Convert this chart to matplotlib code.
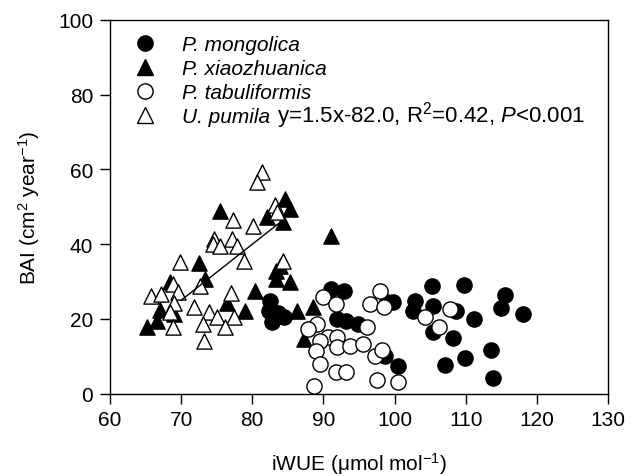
import numpy as np
import matplotlib
matplotlib.use("Agg")
import matplotlib.pyplot as plt
from matplotlib.lines import Line2D

plt.rcParams['font.family'] = ['Liberation Sans', 'DejaVu Sans']
plt.rcParams['mathtext.fontset'] = 'custom'
plt.rcParams['mathtext.rm'] = 'Liberation Sans'
plt.rcParams['mathtext.it'] = 'Liberation Sans:italic'

# P. mongolica (filled circles)
mong_x = [82.5, 82.3, 82.8, 84.4, 83.6, 91.0, 92.9, 91.9, 93.2, 94.8, 98.9, 99.8,
          98.7, 100.5, 105.2, 102.9, 102.6, 105.4, 109.7, 115.5, 115.0, 118.0,
          108.7, 111.1, 105.4, 108.2, 113.6, 109.9, 107.1, 113.9]
mong_y = [24.9, 22.2, 19.1, 20.5, 21.5, 28.0, 27.6, 20.0, 19.5, 18.7, 24.5, 24.6,
          10.2, 7.5, 28.8, 24.9, 22.2, 23.6, 29.1, 26.4, 22.9, 21.3,
          22.0, 20.0, 16.4, 14.8, 11.8, 9.5, 7.7, 4.1]

# P. xiaozhuanica (filled triangles)
xiao_x = [84.6, 85.3, 82.0, 84.3, 75.5, 91.0, 72.5, 83.9, 73.3, 83.3, 85.3, 68.5,
          80.4, 76.5, 79.0, 67.0, 69.0, 65.2, 66.6, 86.3, 88.6, 87.3, 83.4]
xiao_y = [52.1, 49.4, 47.2, 45.9, 49.0, 42.1, 35.0, 34.3, 30.7, 30.7, 29.8, 29.8,
          27.6, 24.3, 22.2, 22.5, 21.3, 17.8, 19.5, 22.2, 23.1, 14.6, 32.9]

# P. tabuliformis (open circles)
tabu_x = [90.0, 91.7, 98.0, 96.6, 98.5, 89.1, 87.9, 96.1, 90.7, 91.9, 89.5, 91.9,
          93.8, 95.6, 88.9, 97.3, 98.2, 89.5, 91.7, 93.2, 88.7, 97.5, 100.5,
          104.3, 107.8, 106.3]
tabu_y = [25.8, 24.0, 27.6, 24.0, 23.1, 18.7, 17.3, 17.8, 15.1, 15.1, 14.2, 12.4,
          12.7, 13.3, 11.5, 10.2, 11.8, 8.0, 5.7, 5.7, 2.1, 3.7, 3.2,
          20.4, 22.7, 17.8]

# U. pumila (open triangles)
pum_x = [81.3, 80.6, 77.3, 80.1, 83.2, 83.5, 74.6, 74.5, 75.5, 77.2, 77.9, 78.9,
         69.8, 84.3, 72.6, 77.0, 68.9, 65.8, 67.2, 69.5, 69.0, 68.5, 71.8, 73.9,
         75.1, 77.5, 76.1, 73.1, 68.9, 73.2]
pum_y = [59.3, 56.6, 46.6, 44.8, 50.5, 48.5, 41.4, 40.0, 39.5, 41.4, 39.6, 35.6,
         35.3, 35.6, 28.9, 27.0, 29.4, 26.2, 26.7, 27.1, 24.3, 21.8, 23.1, 21.8,
         20.5, 20.5, 17.8, 18.7, 17.8, 14.2]

species = ['P. mongolica', 'P. xiaozhuanica', 'P. tabuliformis', 'U. pumila']
equation = r'y=1.5x-82.0, R$^2$=0.42, $\it{P}$<0.001'

# regression line for U. pumila, as drawn
fit_x = np.array([70.0, 84.0])
fit_slope, fit_intercept = 1.5, -80.0

fig = plt.figure(figsize=(6.38, 4.77), dpi=100)
ax = fig.add_axes([0.1724, 0.1725, 0.7806, 0.7835])

s = 120
ax.scatter(mong_x, mong_y, s=s, marker='o', facecolor='black', edgecolor='black', linewidth=1, zorder=3)
ax.scatter(xiao_x, xiao_y, s=s, marker='^', facecolor='black', edgecolor='black', linewidth=1, zorder=3)
ax.scatter(tabu_x, tabu_y, s=s, marker='o', facecolor='white', edgecolor='black', linewidth=1, zorder=3)
ax.scatter(pum_x, pum_y, s=s, marker='^', facecolor='white', edgecolor='black', linewidth=1, zorder=3)
ax.plot(fit_x, fit_slope * fit_x + fit_intercept, color='black', linewidth=1, zorder=4)

ax.set_xlim(60, 130)
ax.set_ylim(0, 100)
ax.set_xticks(range(60, 131, 10))
ax.set_yticks(range(0, 101, 20))
ax.tick_params(direction='out', length=7, width=1, labelsize=15, pad=5)
for sp in ax.spines.values():
    sp.set_linewidth(1)

ax.set_xlabel(r'iWUE ($\mathrm{\mu}$mol mol$^{-1}$)', fontsize=15, labelpad=15)
ax.set_ylabel(r'BAI (cm$^2$ year$^{-1}$)', fontsize=15, labelpad=12)

handles = [
    Line2D([], [], marker='o', linestyle='none', markersize=11, markerfacecolor='black', markeredgecolor='black'),
    Line2D([], [], marker='^', linestyle='none', markersize=11, markerfacecolor='black', markeredgecolor='black'),
    Line2D([], [], marker='o', linestyle='none', markersize=11, markerfacecolor='white', markeredgecolor='black'),
    Line2D([], [], marker='^', linestyle='none', markersize=11, markerfacecolor='white', markeredgecolor='black'),
]
ax.legend(handles, species, loc='upper left', frameon=False,
          prop={'style': 'italic', 'size': 15},
          labelspacing=0.24, handletextpad=1.0, handlelength=1.6,
          borderaxespad=0.1, bbox_to_anchor=(0.015, 0.988))
ax.text(0.335, 0.748, equation, transform=ax.transAxes, fontsize=16,
        ha='left', va='center')

fig.savefig('out.png', dpi=100)
